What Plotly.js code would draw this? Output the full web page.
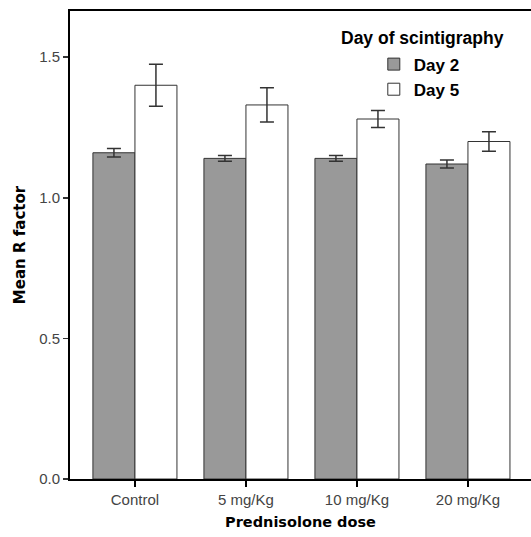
<!DOCTYPE html>
<html>
<head>
<meta charset="utf-8">
<script src="https://cdn.plot.ly/plotly-3.0.1.min.js"></script>
<style>html,body{margin:0;padding:0;background:#fff;overflow:hidden}</style>
</head>
<body>
<div id="chart" style="width:531px;height:537px"></div>
<script>
const categories = ["Control", "5 mg/Kg", "10 mg/Kg", "20 mg/Kg"];
const day2Means = [1.16, 1.14, 1.14, 1.12];
const day2Err = [0.015, 0.01, 0.01, 0.014];
const day5Means = [1.40, 1.33, 1.28, 1.20];
const day5Err = [0.075, 0.061, 0.03, 0.035];
const yTickVals = [0, 0.5, 1.0, 1.5];
const yTickText = ["0.0", "0.5", "1.0", "1.5"];
const legendTitle = "Day of scintigraphy";

const errStyle = {type: "data", visible: true, color: "#333333", thickness: 1.5, width: 7};

const traces = [
  {type: "bar", name: "Day 2", x: categories, y: day2Means,
   marker: {color: "#999999", line: {color: "#333333", width: 1}},
   error_y: Object.assign({array: day2Err}, errStyle)},
  {type: "bar", name: "Day 5", x: categories, y: day5Means,
   marker: {color: "#ffffff", line: {color: "#333333", width: 1}},
   error_y: Object.assign({array: day5Err}, errStyle)}
];

const layout = {
  width: 531, height: 537,
  margin: {l: 70, r: 0, t: 11, b: 58, pad: 0},
  paper_bgcolor: "#ffffff", plot_bgcolor: "#ffffff",
  barmode: "group", bargap: 0.243, bargroupgap: 0,
  showlegend: true,
  font: {family: "Arial, Liberation Sans, sans-serif", color: "#333333"},
  xaxis: {
    type: "category", range: [-0.585, 3.568],
    showline: true, linecolor: "#000000", linewidth: 2, mirror: true,
    ticks: "outside", ticklen: 6, tickwidth: 1.5, tickcolor: "#000000",
    showgrid: false, zeroline: false,
    tickfont: {family: "Arial, Liberation Sans, sans-serif", size: 15, color: "#444444"},
    title: {text: "Prednisolone dose", standoff: 10,
            font: {family: "DejaVu Sans", size: 14.5, color: "#000000", weight: "bold"}}
  },
  yaxis: {
    range: [0, 1.664],
    tickvals: yTickVals, ticktext: yTickText,
    showline: true, linecolor: "#000000", linewidth: 2,
    ticks: "outside", ticklen: 5, tickwidth: 1.5, tickcolor: "#333333",
    showgrid: false, zeroline: false,
    tickfont: {family: "Arial, Liberation Sans, sans-serif", size: 15, color: "#444444"},
    title: {text: "Mean R factor", standoff: 10,
            font: {family: "DejaVu Sans", size: 15, color: "#000000", weight: "bold"}}
  },
  legend: {
    x: 0.659, xanchor: "left", y: 0.924, yanchor: "top",
    bgcolor: "rgba(0,0,0,0)", borderwidth: 0,
    itemwidth: 30, tracegroupgap: 0,
    font: {family: "Arial, Liberation Sans, sans-serif", size: 17, color: "#000000", weight: "bold"}
  },
  annotations: [{
    text: legendTitle, xref: "paper", yref: "paper", x: 0.764, y: 0.942,
    xanchor: "center", yanchor: "middle", showarrow: false,
    font: {family: "Arial, Liberation Sans, sans-serif", size: 17.5, color: "#000000", weight: "bold"}
  }]
};

Plotly.newPlot("chart", traces, layout, {displayModeBar: false, staticPlot: true});
</script>
</body>
</html>
